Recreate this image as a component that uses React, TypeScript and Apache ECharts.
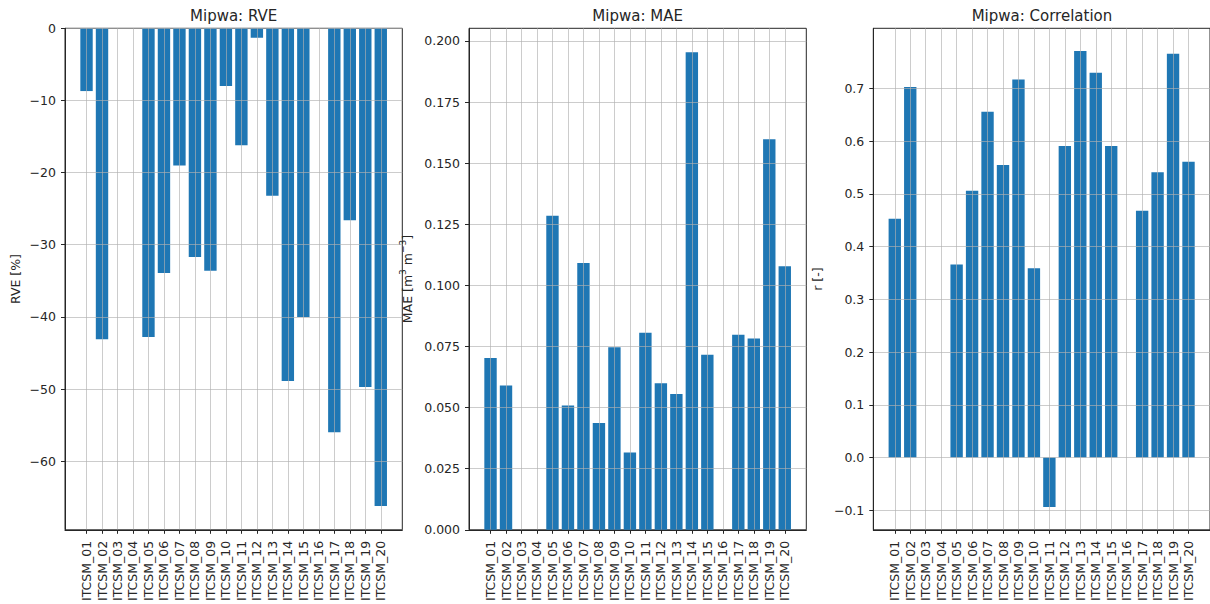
import React, { useEffect, useRef } from "react";
import * as echarts from "echarts";

const categories = [
  "ITCSM_01", "ITCSM_02", "ITCSM_03", "ITCSM_04", "ITCSM_05",
  "ITCSM_06", "ITCSM_07", "ITCSM_08", "ITCSM_09", "ITCSM_10",
  "ITCSM_11", "ITCSM_12", "ITCSM_13", "ITCSM_14", "ITCSM_15",
  "ITCSM_16", "ITCSM_17", "ITCSM_18", "ITCSM_19", "ITCSM_20",
];

const rveValues: (number | null)[] = [
  -8.7, -43.1, null, null, -42.8, -33.9, -19.0, -31.7, -33.6, -8.0,
  -16.2, -1.3, -23.2, -48.9, -40.0, null, -56.0, -26.6, -49.7, -66.2,
];

const maeValues: (number | null)[] = [
  0.0703, 0.059, null, null, 0.1285, 0.0509, 0.1092, 0.0437, 0.0747, 0.0316,
  0.0806, 0.06, 0.0556, 0.1954, 0.0716, null, 0.0798, 0.0783, 0.1598, 0.1078,
];

const corrValues: (number | null)[] = [
  0.453, 0.703, null, null, 0.366, 0.506, 0.656, 0.555, 0.717, 0.359,
  -0.094, 0.591, 0.771, 0.73, 0.591, null, 0.468, 0.541, 0.766, 0.561,
];

const rveTicks = [-60, -50, -40, -30, -20, -10, 0];
const maeTicks = [0, 0.025, 0.05, 0.075, 0.1, 0.125, 0.15, 0.175, 0.2];
const corrTicks = [-0.1, 0, 0.1, 0.2, 0.3, 0.4, 0.5, 0.6, 0.7];

const titles = ["Mipwa: RVE", "Mipwa: MAE", "Mipwa: Correlation"];

const FONT = "DejaVu Sans";
const TEXT = "#262626";
const BAR = "#1f77b4";
const GRIDC = "#b0b0b0";

// matplotlib-like autoscale with sticky zero baseline
function yRange(vals: (number | null)[]) {
  const v = vals.filter((x) => x !== null) as number[];
  const lo = Math.min(0, ...v);
  const hi = Math.max(0, ...v);
  const span = hi - lo;
  return [lo === 0 ? 0 : lo - 0.05 * span, hi === 0 ? 0 : hi + 0.05 * span];
}

const minus = (s: string) => s.replace("-", "\u2212");

export default function App() {
  const ref = useRef<HTMLDivElement>(null);
  useEffect(() => {
    if (!ref.current) return;
    const chart = echarts.init(ref.current, undefined, { renderer: "svg" });

    const TOP = 28.3;
    const H = 502;
    const W = 337.3;
    const lefts = [65, 469, 873.3];
    const idx = categories.map((_, i) => i);
    const xMin = -0.4 - 0.05 * (categories.length - 1 + 0.8);
    const xMax = categories.length - 1 + 0.4 + 0.05 * (categories.length - 1 + 0.8);

    const panels = [
      { vals: rveValues, ticks: rveTicks, fmt: (v: number) => minus(String(Math.round(v))), name: "RVE [%]", gap: 41 },
      { vals: maeValues, ticks: maeTicks, fmt: (v: number) => v.toFixed(3), name: "MAE [m{sup|3} m{sup|\u22123}]", gap: 53 },
      { vals: corrValues, ticks: corrTicks, fmt: (v: number) => minus(v.toFixed(1)), name: "r [-]", gap: 47 },
    ];

    const grid = lefts.map((l) => ({
      left: l, top: TOP, width: W, height: H,
      show: true, borderColor: TEXT, borderWidth: 1, backgroundColor: "transparent",
    }));

    const xAxis = panels.map((_, i) => ({
      gridIndex: i, type: "value", min: xMin, max: xMax, z: 5,
      axisLine: { show: true, onZero: false, lineStyle: { color: TEXT, width: 1 } },
      axisTick: { show: true, length: 4, customValues: idx, lineStyle: { color: TEXT } },
      axisLabel: {
        customValues: idx, rotate: 90, margin: 11, fontSize: 12.5, color: TEXT, fontFamily: FONT,
        formatter: (v: number) => categories[Math.round(v)],
      },
      splitLine: { show: true, lineStyle: { color: GRIDC, width: 1, opacity: 0.65 } },
    }));

    const yAxis = panels.map((p, i) => {
      const [mn, mx] = yRange(p.vals);
      return {
        gridIndex: i, type: "value", min: mn, max: mx, z: 5,
        name: p.name, nameLocation: "middle", nameRotate: 90, nameGap: p.gap,
        nameTextStyle: {
          fontSize: 12.5, color: TEXT, fontFamily: FONT, lineHeight: 18, verticalAlign: "bottom",
          rich: { sup: { fontSize: 9, color: TEXT, fontFamily: FONT, lineHeight: 18, verticalAlign: "top" } },
        },
        axisLine: { show: true, onZero: false, lineStyle: { color: TEXT, width: 1 } },
        axisTick: { show: true, length: 4, customValues: p.ticks, lineStyle: { color: TEXT } },
        axisLabel: {
          customValues: p.ticks, margin: 9, fontSize: 12.5, color: TEXT, fontFamily: FONT,
          formatter: (v: number) => p.fmt(v),
        },
        splitLine: { show: true, lineStyle: { color: GRIDC, width: 1, opacity: 0.65 } },
      };
    });

    const series = panels.map((p, i) => ({
      type: "bar", xAxisIndex: i, yAxisIndex: i, z: 2,
      barWidth: "80%",
      itemStyle: { color: BAR },
      data: p.vals.map((v, j) => [j, v]).filter((d) => d[1] !== null),
    }));

    const graphic = titles.map((t, i) => ({
      type: "text", x: lefts[i] + W / 2, y: 15.5,
      style: { text: t, fontSize: 15, fontFamily: FONT, fill: TEXT, align: "center", verticalAlign: "middle" },
    }));

    chart.setOption({
      animation: false,
      backgroundColor: "#ffffff",
      grid, xAxis, yAxis, series, graphic,
    } as any);

    return () => chart.dispose();
  }, []);

  return (
    <div
      ref={ref}
      style={{ position: "absolute", left: 0, top: 0, width: 1210, height: 604 }}
    />
  );
}
